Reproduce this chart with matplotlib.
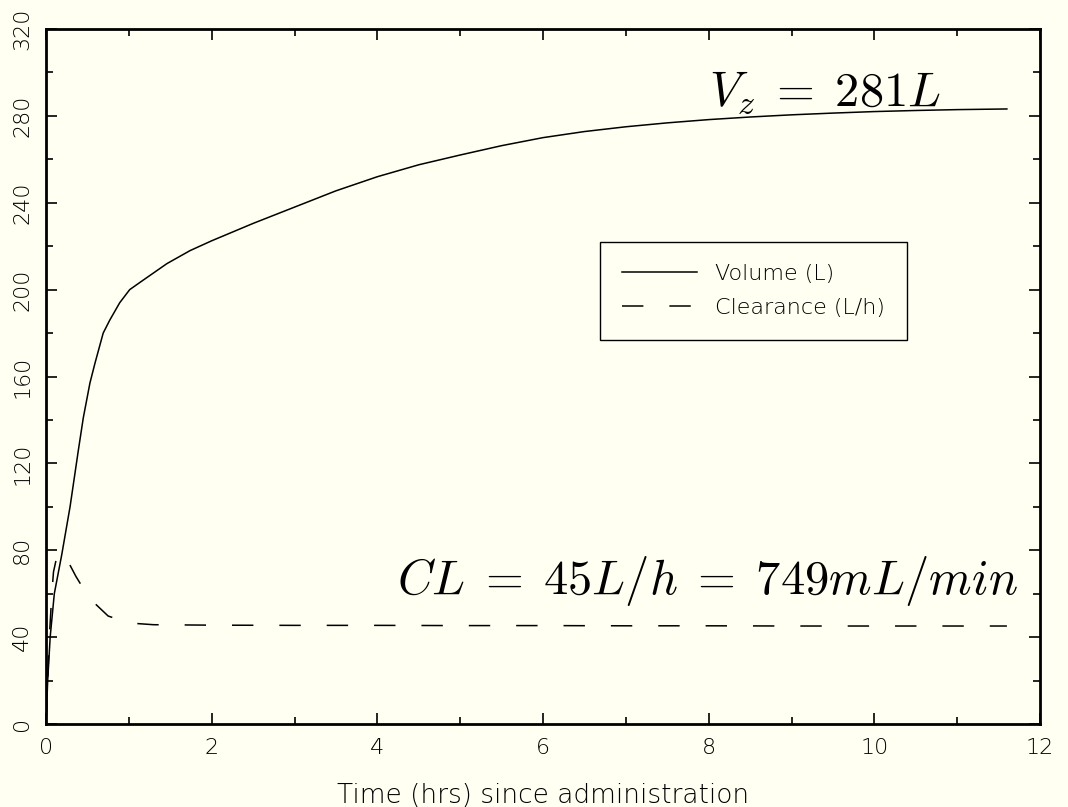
import matplotlib
matplotlib.use("Agg")
import matplotlib.pyplot as plt
from matplotlib.ticker import MultipleLocator

# values
t_vol = [0, 0.02, 0.05, 0.1, 0.19, 0.29, 0.39, 0.45, 0.53, 0.59, 0.69, 0.77, 0.89, 1.01, 1.14,
         1.46, 1.74, 2, 2.5, 3, 3.5, 4, 4.5, 5, 5.5, 6, 6.5, 7, 7.5, 8, 8.5, 9, 9.5, 10,
         10.5, 11, 11.6]
volume = [0, 20, 40, 60, 78, 100, 126, 141, 157, 166, 180, 186, 194, 200, 203.5,
          212, 218, 222.5, 230.5, 238, 245.5, 252, 257.5, 262, 266.3, 270, 272.8, 275, 276.8, 278.3, 279.5, 280.5, 281.3, 282,
          282.5, 282.9, 283.2]

t_cl = [0, 0.02, 0.04, 0.07, 0.09, 0.13, 0.19, 0.25, 0.36, 0.52, 0.75, 1.0, 1.3, 2, 3, 4,
        5, 6, 7, 8, 9, 10, 11, 11.6]
clearance = [0, 20, 40, 60, 70, 77, 79, 76, 68, 58, 49.7, 46.5, 45.7, 45.5, 45.4, 45.4,
             45.3, 45.3, 45.2, 45.2, 45.1, 45.1, 45.1, 45.1]

bg = "#fffff2"
plt.rcParams["mathtext.fontset"] = "cm"
plt.rcParams["font.family"] = ["DejaVu Sans"]

fig = plt.figure(figsize=(10.68, 8.07), dpi=100, facecolor=bg)
ax = fig.add_axes([0.0431, 0.1029, 0.9307, 0.8611], facecolor=bg)

ax.plot(t_vol, volume, color="black", linewidth=1.1, label="Volume (L)")
cl_line, = ax.plot(t_cl, clearance, color="black", linewidth=1.1, label="Clearance (L/h)")
cl_line.set_dashes((14, 17))

ax.set_xlim(0, 12)
ax.set_ylim(0, 320)
ax.xaxis.set_major_locator(MultipleLocator(2))
ax.xaxis.set_minor_locator(MultipleLocator(1))
ax.yaxis.set_major_locator(MultipleLocator(40))
ax.yaxis.set_minor_locator(MultipleLocator(20))
ax.tick_params(which="both", direction="in", top=True, right=True, width=1.2)
ax.tick_params(which="major", length=8, labelsize=16, pad=10, labelcolor="black")
ax.tick_params(which="minor", length=5)
for lab in ax.get_yticklabels():
    lab.set_rotation(90)
    lab.set_va("center")
for lab in ax.get_xticklabels() + ax.get_yticklabels():
    lab.set_fontweight("light")
for sp in ax.spines.values():
    sp.set_linewidth(2)

ax.set_xlabel("Time (hrs) since administration", fontsize=19, fontweight="light", labelpad=18)

ax.text(8.0, 291, r"$V_z\;=\;281L$", fontsize=35, va="center", ha="left")
ax.text(4.24, 66, r"$CL\;=\;45L/h\;=\;749mL/min$", fontsize=35, va="center", ha="left")

leg = ax.legend(loc="upper left", bbox_to_anchor=(0.557, 0.6935),
                prop={"size": 16, "weight": "light"},
                frameon=True, fancybox=False, edgecolor="black", facecolor=bg,
                handlelength=3.4, borderpad=1.0, labelspacing=0.6, handletextpad=0.8,
                borderaxespad=0)
leg.get_frame().set_linewidth(1.0)
leg.get_frame().set_alpha(1)

fig.savefig("out.png", dpi=100, facecolor=bg)
